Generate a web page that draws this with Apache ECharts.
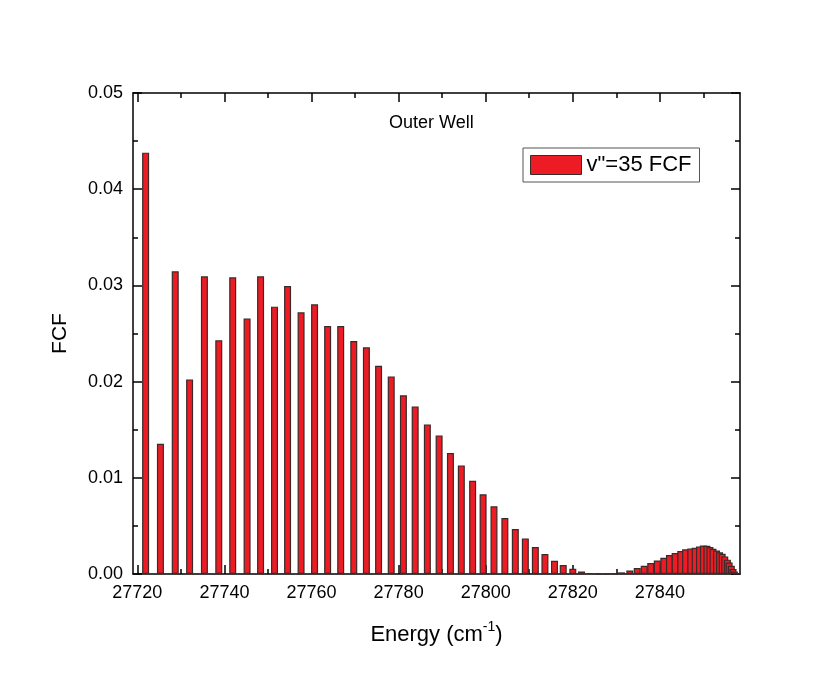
<!DOCTYPE html>
<html>
<head>
<meta charset="utf-8">
<script src="https://cdn.jsdelivr.net/npm/echarts@6/dist/echarts.min.js"></script>
<style>
  html, body { margin: 0; padding: 0; background: #fff; }
  #chart { width: 830px; height: 694px; }
</style>
</head>
<body>
<div id="chart"></div>
<script>
// transition energies (cm-1) and Franck-Condon factors
const energy = [27721.9, 27725.3, 27728.7, 27732.0, 27735.4, 27738.7, 27741.9, 27745.2, 27748.3, 27751.5,
  27754.5, 27757.6, 27760.7, 27763.7, 27766.7, 27769.7, 27772.6, 27775.4, 27778.3, 27781.1,
  27783.8, 27786.6, 27789.3, 27791.9, 27794.4, 27797.0, 27799.4, 27801.9, 27804.4, 27806.8,
  27809.1, 27811.4, 27813.6, 27815.8, 27817.8, 27820.0, 27822.0, 27824.0, 27825.9, 27827.8,
  27829.6, 27831.2, 27833.1, 27834.8, 27836.4, 27837.9, 27839.4, 27840.9, 27842.2, 27843.5,
  27844.8, 27845.9, 27847.1, 27848.1, 27849.1, 27850.0, 27850.8, 27851.5, 27852.2, 27853.0,
  27853.7, 27854.3, 27854.9, 27855.5, 27855.9, 27856.4, 27856.8, 27857.1, 27857.3, 27857.6, 27857.8]
const fcf = [0.0438, 0.01354, 0.03146, 0.02023, 0.03094, 0.02429, 0.03084, 0.02657, 0.03094, 0.02779,
  0.02994, 0.0272, 0.02803, 0.02578, 0.02578, 0.02422, 0.02356, 0.02165, 0.02054, 0.01857,
  0.01742, 0.01555, 0.01441, 0.01258, 0.01129, 0.0097, 0.00828, 0.00703, 0.00582, 0.00468,
  0.0037, 0.00281, 0.00208, 0.00138, 0.00094, 0.00055, 0.00027, 0.0001, 0.00003, 0.00001,
  0.00005, 0.00017, 0.00037, 0.00062, 0.00086, 0.00114, 0.00141, 0.00169, 0.00198, 0.00218,
  0.00239, 0.00256, 0.00266, 0.00273, 0.00287, 0.00297, 0.00294, 0.0028, 0.00263, 0.00245,
  0.00225, 0.00211, 0.00183, 0.00149, 0.0012, 0.00086, 0.00052, 0.00027, 0.00012, 0.00005, 0.00002]

const xMajor = [27720, 27740, 27760, 27780, 27800, 27820, 27840]
const xMinor = [27730, 27750, 27770, 27790, 27810, 27830, 27850]
const seriesName = 'v"=35 FCF'

const font = '"Liberation Sans", Arial, sans-serif'
const xMin = 27719
const xMax = 27858.4

let chart = echarts.init(document.getElementById('chart'))

function xAxisCfg(pos, ticks, tickLen, showLine, showLabel) {
  return {
    type: 'value',
    min: xMin,
    max: xMax,
    position: pos,
    splitLine: { show: false },
    axisLine: { show: showLine, onZero: false, lineStyle: { color: '#000', width: 1.5 } },
    axisTick: { show: true, inside: true, length: tickLen, customValues: ticks, lineStyle: { color: '#000', width: 1.5 } },
    axisLabel: showLabel
      ? {
          show: true,
          customValues: ticks,
          margin: 10,
          color: '#000',
          fontSize: 18,
          fontFamily: font,
          formatter: function (v) {
            return String(Math.round(v))
          },
        }
      : { show: false },
  }
}

function yAxisCfg(pos, showLabel) {
  return {
    type: 'value',
    min: 0,
    max: 0.05,
    interval: 0.01,
    position: pos,
    splitLine: { show: false },
    minorSplitLine: { show: false },
    axisLine: { show: true, onZero: false, lineStyle: { color: '#000', width: 1.5 } },
    axisTick: { show: true, inside: true, length: 9, lineStyle: { color: '#000', width: 1.5 } },
    minorTick: { show: true, splitNumber: 2, length: 5, lineStyle: { color: '#000', width: 1.5 } },
    axisLabel: showLabel
      ? {
          show: true,
          margin: 10,
          color: '#000',
          fontSize: 18,
          fontFamily: font,
          formatter: function (v) {
            return v.toFixed(2)
          },
        }
      : { show: false },
  }
}

let bottomMain = xAxisCfg('bottom', xMajor, 9, true, true)
bottomMain.name = '{a|Energy (cm}{b|-1}{a|)}'
bottomMain.nameLocation = 'middle'
bottomMain.nameGap = 46
bottomMain.nameTextStyle = {
  color: '#000',
  fontFamily: font,
  rich: {
    a: { fontSize: 22, fontFamily: font, color: '#000', lineHeight: 26, verticalAlign: 'bottom' },
    b: { fontSize: 14, fontFamily: font, color: '#000', verticalAlign: 'top' },
  },
}

let leftMain = yAxisCfg('left', true)
leftMain.name = 'FCF'
leftMain.nameLocation = 'middle'
leftMain.nameGap = 62
leftMain.nameTextStyle = { color: '#000', fontSize: 21, fontFamily: font }

let option = {
  animation: false,
  backgroundColor: '#fff',
  title: {
    text: 'Outer Well',
    left: 389,
    top: 114,
    padding: 0,
    textStyle: { fontSize: 18, fontWeight: 'normal', color: '#000', fontFamily: font },
  },
  legend: {
    left: 523,
    top: 148,
    padding: [6, 8, 6, 7],
    borderColor: '#555',
    borderWidth: 1,
    itemWidth: 51,
    itemHeight: 19,
    textStyle: { fontSize: 22, color: '#000', fontFamily: font },
    data: [{ name: seriesName, icon: 'rect', itemStyle: { color: '#ED1C24', borderColor: '#3a2a2a', borderWidth: 1 } }],
  },
  grid: {
    left: 133,
    right: 90,
    top: 93,
    bottom: 120,
    containLabel: false,
    outerBoundsMode: 'none',
  },
  xAxis: [
    bottomMain,
    xAxisCfg('bottom', xMinor, 5, false, false),
    xAxisCfg('top', xMajor, 9, true, false),
    xAxisCfg('top', xMinor, 5, false, false),
  ],
  yAxis: [leftMain, yAxisCfg('right', false)],
  series: [
    {
      name: seriesName,
      type: 'bar',
      xAxisIndex: 0,
      yAxisIndex: 0,
      barWidth: 7,
      itemStyle: { color: '#ED1C24', borderColor: '#3a2a2a', borderWidth: 1.2 },
      data: energy.map((e, i) => [e, fcf[i]]),
    },
  ],
}

chart.setOption(option)
</script>
</body>
</html>
